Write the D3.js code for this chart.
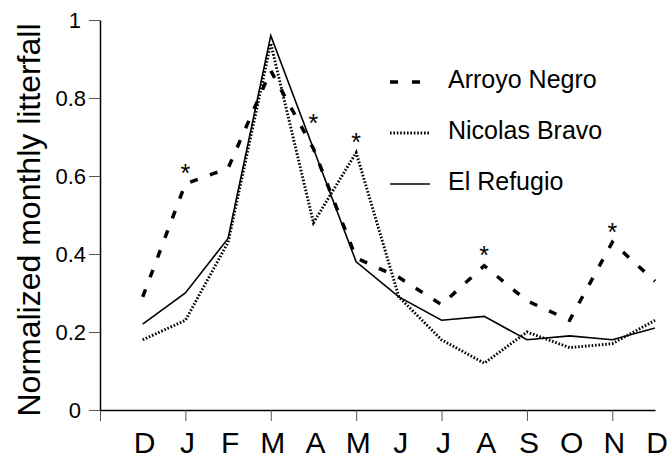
<!DOCTYPE html>
<html>
  <head>
    <meta charset="UTF-8" />
    <style>
      body { margin: 0; background: #fff; }
      text { font-family: "Liberation Sans", Arial, sans-serif; fill: #000; }
    </style>
  </head>
  <body>
    <svg></svg>
    <script src="https://d3js.org/d3.v7.min.js"></script>
    <script>
      let width = 671,
        height = 458;
      let svg = d3.select("svg").attr("width", width).attr("height", height);

      // data
      const months = ["D", "J", "F", "M", "A", "M", "J", "J", "A", "S", "O", "N", "D"];
      const arroyoNegro = [0.29, 0.58, 0.62, 0.87, 0.67, 0.39, 0.34, 0.27, 0.37, 0.28, 0.23, 0.43, 0.33];
      const nicolasBravo = [0.18, 0.23, 0.43, 0.94, 0.48, 0.66, 0.29, 0.18, 0.12, 0.2, 0.16, 0.17, 0.23];
      const elRefugio = [0.22, 0.3, 0.44, 0.96, 0.67, 0.38, 0.29, 0.23, 0.24, 0.18, 0.19, 0.18, 0.21];
      const sigMonths = [1, 4, 5, 8, 11];
      const sigLevels = [0.62, 0.75, 0.7, 0.41, 0.47];
      const yTicks = [0, 0.2, 0.4, 0.6, 0.8, 1];
      const xTicks = [-1, 1, 3, 5, 7, 9, 11];

      const series = [
        { name: "Arroyo Negro", values: arroyoNegro, dash: "8,13", width: 3.5 },
        { name: "Nicolas Bravo", values: nicolasBravo, dash: "1.6,1.8", width: 2.9 },
        { name: "El Refugio", values: elRefugio, dash: null, width: 1.6 },
      ];

      let x = d3.scaleLinear().domain([-1, 12]).range([100, 655]);
      let y = d3.scaleLinear().domain([0, 1]).range([410, 20]);

      // y axis
      let yAxis = svg
        .append("g")
        .attr("transform", "translate(100,0)")
        .call(
          d3
            .axisLeft(y)
            .tickValues(yTicks)
            .tickSize(11)
            .tickSizeOuter(0)
            .tickPadding(3)
            .tickFormat((d) => (Number.isInteger(d) ? d : d3.format(".1f")(d)))
        );
      yAxis.select(".domain").attr("stroke", "#000").attr("stroke-width", 1.5);
      yAxis.selectAll(".tick line").attr("stroke", "#555");
      yAxis
        .selectAll(".tick text")
        .attr("font-size", 22)
        .attr("font-family", null)
        .attr("dx", (d) => (Number.isInteger(d) ? -5 : 0));

      // x axis
      let xAxis = svg
        .append("g")
        .attr("transform", "translate(0,410)")
        .call(d3.axisBottom(x).tickValues(xTicks).tickSize(11).tickSizeOuter(0).tickFormat(""));
      xAxis.select(".domain").attr("stroke", "#000").attr("stroke-width", 1.5);
      xAxis.selectAll(".tick line").attr("stroke", "#555");

      svg
        .append("g")
        .selectAll("text")
        .data(months)
        .join("text")
        .attr("x", (d, i) => x(i) + 2)
        .attr("y", 453)
        .attr("text-anchor", "middle")
        .attr("font-size", 30)
        .text((d) => d);

      // y title
      svg
        .append("text")
        .attr("transform", "translate(40,220) rotate(-90)")
        .attr("text-anchor", "middle")
        .attr("font-size", 32)
        .text("Normalized monthly litterfall");

      // lines
      let line = d3
        .line()
        .x((d, i) => x(i))
        .y((d) => y(d));

      svg
        .append("g")
        .selectAll("path")
        .data(series)
        .join("path")
        .attr("d", (d) => line(d.values))
        .attr("fill", "none")
        .attr("stroke", "#000")
        .attr("stroke-width", (d) => d.width)
        .attr("stroke-dasharray", (d) => d.dash);

      // significance asterisks
      svg
        .append("g")
        .selectAll("text")
        .data(sigMonths)
        .join("text")
        .attr("x", (d) => x(d))
        .attr("y", (d, i) => y(sigLevels[i]) + 14)
        .attr("text-anchor", "middle")
        .attr("font-size", 25)
        .text("*");

      // legend
      let legend = svg
        .append("g")
        .selectAll("g")
        .data(series)
        .join("g")
        .attr("transform", (d, i) => "translate(0," + (82 + i * 51) + ")");
      legend
        .append("line")
        .attr("x1", 390)
        .attr("x2", 430)
        .attr("stroke", "#000")
        .attr("stroke-width", (d) => d.width)
        .attr("stroke-dasharray", (d) => (d.dash ? (d.dash === "8,13" ? "8,14" : d.dash) : null));
      legend
        .append("text")
        .attr("x", 448)
        .attr("y", 6)
        .attr("font-size", 25)
        .text((d) => d.name);
    </script>
  </body>
</html>
